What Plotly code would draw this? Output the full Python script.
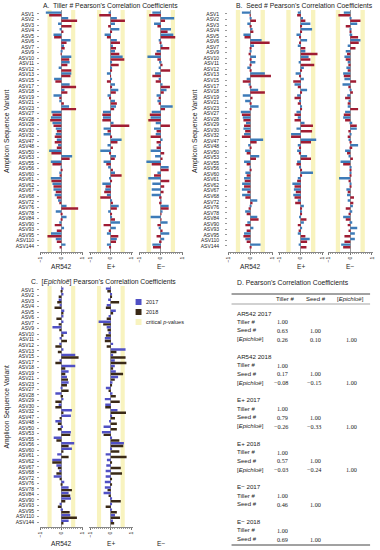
import plotly.graph_objects as go

W, H = 380, 550
def px(x): return x / W
def py(y): return 1 - y / H

asv = ["ASV1","ASV2","ASV3","ASV4","ASV5","ASV6","ASV7","ASV9","ASV10","ASV11",
       "ASV12","ASV13","ASV15","ASV17","ASV18","ASV19","ASV21","ASV23","ASV27","ASV28",
       "ASV29","ASV30","ASV32","ASV47","ASV48","ASV50","ASV53","ASV55","ASV56","ASV60",
       "ASV61","ASV62","ASV67","ASV68","ASV72","ASV76","ASV78","ASV84","ASV90","ASV93",
       "ASV95","ASV110","ASV144"]

# Panel A: Tiller #
tiller_ar542_2017 = [-0.75,0.33,-0.16,-0.06,-0.38,0.44,0.13,0.05,0.48,0.40,
                     -0.13,0.48,-0.35,0.40,0.15,-0.38,-0.10,0.37,-0.48,-0.50,
                     -0.43,-0.27,-0.27,-0.22,-0.16,-0.59,0.52,-0.51,-0.03,-0.10,
                     -0.51,-0.43,-0.38,-0.32,-0.16,0.25,-0.27,0.25,-0.10,0.13,
                     -0.50,-0.27,0.20]
tiller_ar542_2018 = [-0.59,0.76,0.49,0.10,-0.35,0.25,0.16,-0.03,0.38,0.29,
                     0.48,0.44,-0.29,0.71,0.29,-0.10,0.12,0.71,-0.43,-0.54,
                     -0.38,-0.22,-0.32,-0.32,-0.22,-0.48,0.40,-0.43,0.02,-0.06,
                     -0.48,-0.38,-0.27,-0.22,-0.10,0.81,0.03,0.06,-0.32,-0.22,
                     -0.67,-0.22,-0.06]
tiller_ep_2017 = [-0.11,0.29,0.20,0.41,-0.30,0.29,0.10,0.20,0.57,0.05,
                  0.02,-0.19,0.05,0.20,0.36,-0.16,0.20,0.25,-0.38,-0.38,
                  0.13,-0.35,-0.35,0.52,-0.16,-0.51,0.25,-0.35,-0.13,0.20,
                  -0.06,-0.41,-0.27,-0.19,0.06,0.38,-0.13,0.06,0.44,0.24,
                  -0.19,0.29,-0.19]
tiller_ep_2018 = [-0.56,0.68,-0.13,0.02,-0.19,0.44,0.25,0.41,0.65,0.38,
                  0.03,-0.03,-0.19,0.06,0.24,-0.06,0.29,0.16,-0.41,-0.41,
                  0.89,-0.16,0.02,0.32,0.10,-0.06,0.19,-0.22,0.10,0.52,
                  0.02,-0.25,-0.32,-0.51,0.10,0.29,0.02,0.20,-0.35,-0.10,
                  0.36,0.25,-0.06]
tiller_em_2017 = [-0.40,0.63,-0.32,0.48,0.59,-0.10,0.08,-0.20,-0.63,-0.08,
                  -0.10,-0.27,-0.10,0.08,0.27,-0.20,-0.16,0.56,-0.43,-0.48,
                  -0.24,-0.32,-0.24,0.05,-0.10,-0.48,-0.27,-0.68,0.37,-0.16,
                  -0.59,-0.40,-0.43,-0.43,0.02,0.37,0.05,-0.48,0.32,-0.10,
                  0.40,0.16,-0.40]
tiller_em_2018 = [-0.55,0.20,-0.16,0.32,0.68,-0.05,0.40,-0.27,-0.16,0.08,
                  0.44,-0.40,-0.24,0.43,0.14,-0.10,-0.10,0.20,-0.52,-0.59,
                  0.43,-0.20,-0.48,-0.20,-0.20,0.16,0.08,-0.43,0.37,-0.32,
                  0.40,0.16,0.13,-0.08,-0.08,0.37,0.02,0.02,-0.16,0.08,
                  -0.20,-0.08,-0.37]

# Panel B: Seed #
seed_ar542_2017 = [-0.39,0.06,-0.14,0.10,-0.32,0.52,0.17,0.02,0.26,0.23,
                   -0.14,0.67,-0.17,-0.08,0.36,-0.35,-0.24,0.38,-0.44,-0.35,
                   -0.20,-0.32,-0.29,0.59,-0.10,-0.24,0.41,-0.29,-0.03,-0.23,
                   -0.29,-0.38,-0.39,-0.38,0.32,0.02,-0.24,0.32,-0.14,0.14,
                   -0.29,-0.23,0.47]
seed_ar542_2018 = [-0.03,0.26,0.06,0.14,-0.27,0.89,0.02,-0.08,0.06,0.02,
                   0.06,0.95,-0.35,0.03,0.67,0.10,0.06,0.02,-0.39,-0.32,
                   -0.29,-0.24,-0.39,0.29,0.02,-0.17,0.26,-0.17,0.02,-0.17,
                   -0.26,-0.29,-0.14,-0.23,0.10,-0.05,-0.17,0.38,-0.23,-0.17,
                   -0.32,-0.17,0.02]
seed_ep_2017 = [-0.14,0.10,0.44,0.52,-0.20,0.29,-0.14,0.21,0.36,-0.10,
                0.14,-0.24,0.14,-0.29,0.29,-0.17,-0.05,0.05,-0.20,-0.14,
                0.17,-0.20,-0.45,0.71,-0.14,-0.17,0.29,-0.17,-0.05,0.56,
                -0.14,-0.39,-0.32,-0.35,-0.14,0.14,0.02,-0.08,0.14,0.06,
                -0.14,0.41,-0.10]
seed_ep_2018 = [-0.17,0.21,0.05,0.02,-0.05,-0.05,0.21,0.77,0.44,0.62,
                0.02,-0.05,-0.35,-0.14,0.02,-0.29,-0.14,0.02,-0.29,-0.29,
                0.56,0.52,-0.45,0.47,-0.08,-0.09,0.47,-0.20,0.02,0.02,
                -0.17,-0.29,-0.23,-0.29,-0.26,0.02,0.02,0.26,-0.14,-0.10,
                0.21,0.29,0.26]
seed_em_2017 = [-0.30,0.06,0.32,0.02,0.09,0.47,-0.12,-0.21,-0.27,-0.12,
                -0.18,-0.33,-0.27,-0.36,0.06,-0.14,-0.05,-0.12,-0.24,-0.33,
                0.09,0.30,0.03,-0.05,0.36,-0.24,-0.05,-0.45,0.06,0.02,
                -0.52,0.03,-0.18,-0.15,-0.12,0.12,0.09,-0.33,0.09,0.32,
                0.21,0.21,-0.42]
seed_em_2018 = [-0.55,0.47,-0.21,0.02,0.36,0.39,0.24,-0.15,-0.21,-0.09,
                -0.12,-0.30,0.27,-0.09,0.12,-0.24,-0.12,0.36,-0.30,-0.24,
                0.30,-0.09,-0.12,0.06,0.09,-0.15,0.12,-0.33,0.02,0.02,
                -0.06,0.02,-0.12,0.17,0.14,-0.21,-0.06,-0.21,-0.12,-0.06,
                -0.27,-0.27,-0.33]

# Panel C: [Epichloë]
epi_ar542_2017 = [0.10,0.10,-0.13,-0.08,0.14,0.10,0.10,-0.43,0.27,-0.08,
                  -0.10,0.10,0.67,-0.08,0.67,0.35,0.27,0.35,0.03,-0.29,
                  0.10,-0.13,0.51,0.46,-0.29,0.08,0.46,-0.37,0.62,0.51,
                  -0.20,-0.44,-0.24,-0.10,-0.37,0.14,0.35,0.35,0.46,-0.05,
                  0.08,0.43,0.35]
epi_ar542_2018 = [0.02,-0.13,-0.20,-0.33,0.10,-0.24,-0.13,-0.10,0.10,0.27,
                  -0.29,-0.17,0.83,-0.29,0.19,0.19,0.32,0.27,0.35,0.08,
                  -0.29,-0.29,0.10,-0.08,-0.17,-0.17,0.43,-0.24,0.35,0.10,
                  0.35,-0.44,-0.17,-0.24,-0.08,0.02,0.51,0.43,0.19,-0.17,
                  0.40,0.75,0.10]
epi_ep_2017 = [-0.24,0.05,-0.13,-0.20,0.24,-0.11,-0.59,-0.20,-0.11,-0.29,
               0.11,0.71,0.11,0.19,0.19,0.24,0.35,0.08,-0.24,0.08,
               -0.29,-0.27,0.32,0.05,-0.06,-0.35,-0.43,0.05,0.63,0.05,
               -0.25,-0.19,-0.22,-0.25,-0.25,-0.29,-0.29,-0.35,0.06,0.02,
               0.05,0.20,0.10]
epi_ep_2018 = [-0.17,0.02,0.40,-0.24,0.11,-0.20,-0.37,-0.16,-0.24,-0.29,
               -0.20,0.27,0.71,0.75,0.11,0.59,0.19,0.02,-0.11,0.24,
               0.43,-0.27,0.73,0.20,0.29,0.29,-0.35,0.41,0.60,0.41,
               0.76,0.02,0.48,0.54,0.02,0.02,-0.16,-0.11,0.48,-0.25,
               0.29,0.44,0.16]

groups = ["AR542", "E+", "E\u2212"]
crit_lo, crit_hi = 0.47, 0.67

# Table D
tbl_groups = ["AR542 2017", "AR542 2018", "E+ 2017", "E+ 2018", "E\u2212 2017", "E\u2212 2018"]
tbl_cols = ["Tiller #", "Seed #", "[<i>Epichloë</i>]"]
tbl_vals = [
    [[1.00], [0.63, 1.00], [0.26, 0.10, 1.00]],
    [[1.00], [0.17, 1.00], [-0.08, -0.15, 1.00]],
    [[1.00], [0.79, 1.00], [-0.26, -0.33, 1.00]],
    [[1.00], [0.57, 1.00], [-0.03, -0.24, 1.00]],
    [[1.00], [0.46, 1.00]],
    [[1.00], [0.69, 1.00]],
]

SANS = "Liberation Sans"
SERIF = "Liberation Serif"
TXT = "#222222"
BAND = "#f8f3bf"

A_COLS = ("#3d7bb8", "#a01c33")
C_COLS = ("#5050c4", "#3a2916")

panels = [
    dict(title="A.  Tiller # Pearson's Correlation Coefficients", tx=110, ty=6,
         xdoms=[(38, 82), (88, 132), (138, 183)], ydom=(10, 252), yr=[43.09, -0.72],
         data=[(tiller_ar542_2017, tiller_ar542_2018), (tiller_ep_2017, tiller_ep_2018),
               (tiller_em_2017, tiller_em_2018)], cols=A_COLS, namey=266, ytx=5, standoff=2,
         bands=[True, True, True]),
    dict(title="B.  Seed # Pearson's Correlation Coefficients", tx=306, ty=6,
         xdoms=[(228, 274), (279, 325), (329, 375)], ydom=(10, 252), yr=[43.09, -0.72],
         data=[(seed_ar542_2017, seed_ar542_2018), (seed_ep_2017, seed_ep_2018),
               (seed_em_2017, seed_em_2018)], cols=A_COLS, namey=266, ytx=195, standoff=5,
         bands=[True, True, True]),
    dict(title="C.  [<i>Epichloë</i>] Pearson's Correlation Coefficients", tx=103, ty=282,
         xdoms=[(38, 82), (88, 132), (138, 183)], ydom=(286, 527), yr=[42.9, -0.72],
         data=[(epi_ar542_2017, epi_ar542_2018), (epi_ep_2017, epi_ep_2018), None],
         cols=C_COLS, namey=543, ytx=5, standoff=2, bands=[True, True, False]),
]

fig = go.Figure()
layout = {}
shapes = []
annotations = []
n = 0
for p in panels:
    for j, xd in enumerate(p["xdoms"]):
        n += 1
        xa = "xaxis" if n == 1 else f"xaxis{n}"
        ya = "yaxis" if n == 1 else f"yaxis{n}"
        xr = "x" if n == 1 else f"x{n}"
        yr = "y" if n == 1 else f"y{n}"
        first = (j == 0)
        layout[xa] = dict(domain=[px(xd[0]), px(xd[1])], anchor=yr, range=[-1.05, 1.05],
                          tickmode="array", tickvals=[-1, 0, 1], ticktext=["\u22121", "0", "1"],
                          tickangle=-90, tickfont=dict(size=5, color=TXT, family=SANS),
                          ticks="outside", ticklen=2, tickwidth=0.5, tickcolor="#777",
                          minor=dict(tickmode="linear", tick0=-1, dtick=0.1, ticks="outside",
                                     ticklen=1, tickwidth=0.4, tickcolor="#999"),
                          showline=True, linecolor="#888", linewidth=0.6, mirror=False,
                          showgrid=False, zeroline=True, zerolinecolor="#9a9a9a",
                          zerolinewidth=0.6, fixedrange=True)
        ydict = dict(domain=[py(p["ydom"][1]), py(p["ydom"][0])], anchor=xr,
                     type="category", categoryorder="array", categoryarray=asv,
                     range=p["yr"], showgrid=False, zeroline=False, showline=False,
                     fixedrange=True)
        if first:
            ydict.update(showticklabels=True, tickmode="array", tickvals=asv, ticktext=asv,
                         ticks="outside", ticklen=1.5, tickwidth=0.4,
                         tickcolor="#999", tickfont=dict(size=5, color=TXT, family=SANS),
                         ticklabelstandoff=p["standoff"])
        else:
            ydict.update(showticklabels=False, ticks="")
        layout[ya] = ydict

        if p["bands"][j]:
            for a, b in [(-crit_hi, -crit_lo), (crit_lo, crit_hi)]:
                shapes.append(dict(type="rect", xref=xr, yref=f"{yr} domain", x0=a, x1=b,
                                   y0=0, y1=1, fillcolor=BAND, line=dict(width=0),
                                   layer="below"))
        d = p["data"][j]
        if d is not None:
            v17, v18 = d
            fig.add_trace(go.Bar(x=v17, y=asv, orientation="h", xaxis=xr, yaxis=yr,
                                 offset=-0.47, width=0.45, name="2017", showlegend=False,
                                 marker=dict(color=p["cols"][0], line=dict(width=0))))
            fig.add_trace(go.Bar(x=v18, y=asv, orientation="h", xaxis=xr, yaxis=yr,
                                 offset=0.0, width=0.45, name="2018", showlegend=False,
                                 marker=dict(color=p["cols"][1], line=dict(width=0))))
        cx = (xd[0] + xd[1]) / 2
        annotations.append(dict(text=groups[j], x=px(cx), y=py(p["namey"]), xref="paper",
                                yref="paper", showarrow=False, xanchor="center", yanchor="middle",
                                font=dict(size=6.6, color=TXT, family=SANS)))
    annotations.append(dict(text=p["title"], x=px(p["tx"]), y=py(p["ty"]), xref="paper",
                            yref="paper", showarrow=False, xanchor="center", yanchor="middle",
                            font=dict(size=6.8, color=TXT, family=SANS)))
    yc = (p["ydom"][0] + p["ydom"][1]) / 2
    annotations.append(dict(text="Amplicon Sequence Variant", x=px(p["ytx"]), y=py(yc),
                            xref="paper", yref="paper", showarrow=False, textangle=-90,
                            xanchor="center", yanchor="middle",
                            font=dict(size=6.8, color=TXT, family=SANS)))

# Legend for panel C
leg = [("2017", C_COLS[0]), ("2018", C_COLS[1]), ("critical <i>p</i>-values", BAND)]
for k, (lab, col) in enumerate(leg):
    yc = 302 + 10 * k
    shapes.append(dict(type="rect", xref="paper", yref="paper", x0=px(135), x1=px(141),
                       y0=py(yc + 3), y1=py(yc - 3), fillcolor=col, line=dict(width=0)))
    annotations.append(dict(text=lab, x=px(144), y=py(yc), xref="paper", yref="paper",
                            showarrow=False, xanchor="left", yanchor="middle",
                            font=dict(size=5.5, color=TXT, family=SANS)))

# Table D
annotations.append(dict(text="D. Pearson's Correlation Coefficients", x=px(294), y=py(282),
                        xref="paper", yref="paper", showarrow=False, xanchor="center",
                        yanchor="middle", font=dict(size=6.8, color=TXT, family=SANS)))
for (y, w) in [(294, 1.0), (304, 0.5), (545, 1.0)]:
    shapes.append(dict(type="line", xref="paper", yref="paper", x0=px(232), x1=px(372),
                       y0=py(y), y1=py(y), line=dict(color="#444", width=w)))
col_centers = [286, 317, 352]
col_right = [291, 324, 361]
for c, lab in enumerate(tbl_cols):
    annotations.append(dict(text=lab, x=px(col_centers[c]), y=py(299), xref="paper",
                            yref="paper", showarrow=False, xanchor="center", yanchor="middle",
                            font=dict(size=6, color=TXT, family=SANS)))
row_labels = ["Tiller #", "Seed #", "[<i>Epichloë</i>]"]
step = 8.7
yy = 313.0
for g, gname in enumerate(tbl_groups):
    annotations.append(dict(text=gname, x=px(235), y=py(yy), xref="paper", yref="paper",
                            showarrow=False, xanchor="left", yanchor="middle",
                            font=dict(size=6.2, color=TXT, family=SANS)))
    for r, rowv in enumerate(tbl_vals[g]):
        yy += step
        annotations.append(dict(text=row_labels[r], x=px(235), y=py(yy), xref="paper",
                                yref="paper", showarrow=False, xanchor="left",
                                yanchor="middle", font=dict(size=6, color=TXT, family=SANS)))
        for c, v in enumerate(rowv):
            s = f"{v:.2f}".replace("-", "\u2212")
            annotations.append(dict(text=s, x=px(col_right[c]), y=py(yy), xref="paper",
                                    yref="paper", showarrow=False, xanchor="right",
                                    yanchor="middle",
                                    font=dict(size=6.2, color=TXT, family=SERIF)))
    yy += 2 * step

fig.update_layout(width=W, height=H, margin=dict(l=0, r=0, t=0, b=0),
                  paper_bgcolor="white", plot_bgcolor="white", barmode="overlay",
                  showlegend=False, shapes=shapes, annotations=annotations, **layout)
fig.write_html("out.html", config={"displayModeBar": False},
               post_script="document.body.style.margin='0px';document.body.style.padding='0px';")
